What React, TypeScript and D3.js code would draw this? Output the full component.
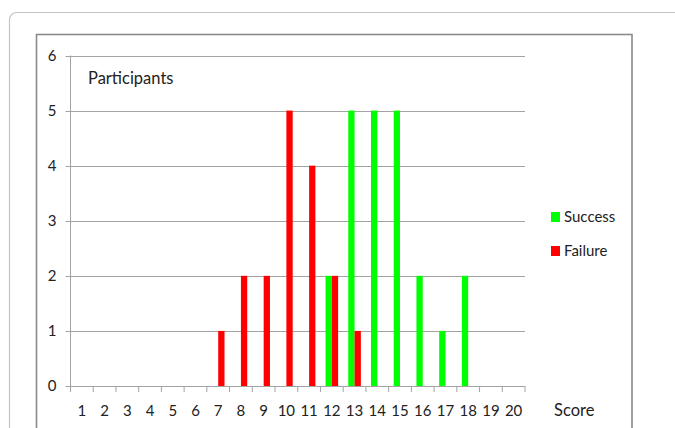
import React from "react";
import * as d3 from "d3";

const scores: number[] = d3.range(1, 21);
const successCounts: number[] = [0, 0, 0, 0, 0, 0, 0, 0, 0, 0, 0, 2, 5, 5, 5, 2, 1, 2, 0, 0];
const failureCounts: number[] = [0, 0, 0, 0, 0, 0, 1, 2, 2, 5, 4, 2, 1, 0, 0, 0, 0, 0, 0, 0];
const yTicks: number[] = [0, 1, 2, 3, 4, 5, 6];
const seriesNames: string[] = ["Success", "Failure"];
const seriesColors: string[] = ["#00ff00", "#ff0000"];

const W = 675;
const H = 428;
const plot = { left: 70.5, right: 525, top: 55.5, bottom: 386 };
const FONT = "Lato, 'Open Sans', sans-serif";

export default function App() {
  const x = d3
    .scaleBand<number>()
    .domain(scores)
    .range([plot.left, plot.right])
    .paddingInner(0)
    .paddingOuter(0);
  const y = d3.scaleLinear().domain([0, 6]).range([plot.bottom, plot.top]);
  const barW = x.bandwidth() * 0.277;
  const series = [successCounts, failureCounts];

  return (
    <svg
      width={W}
      height={H}
      style={{ position: "absolute", left: 0, top: 0, background: "#fff" }}
      fontFamily={FONT}
    >
      {/* outer panel */}
      <rect x={9.5} y={12.5} width={720} height={500} rx={7} fill="#fff" stroke="#c4c4c4" strokeWidth={1.2} />
      {/* chart frame */}
      <rect x={36.5} y={34.5} width={595.5} height={500} fill="#fff" stroke="#8a8a8a" strokeWidth={1.6} />

      {/* gridlines and y labels */}
      {yTicks.map((t) => (
        <g key={t}>
          <line x1={plot.left - 5} x2={plot.right} y1={Math.round(y(t)) + 0.5} y2={Math.round(y(t)) + 0.5} stroke="#a3a3a3" strokeWidth={1} />
          <text x={52} y={y(t) + 5} fontSize={15} textAnchor="middle" fill="#222">
            {t}
          </text>
        </g>
      ))}
      {/* y axis */}
      <line x1={plot.left} x2={plot.left} y1={plot.top} y2={plot.bottom} stroke="#a3a3a3" strokeWidth={1} />

      {/* bars */}
      {series.map((vals, si) =>
        scores.map((s, i) =>
          vals[i] > 0 ? (
            <rect
              key={`${si}-${s}`}
              x={(x(s) as number) + x.bandwidth() / 2 + (si === 0 ? -barW : 0)}
              y={y(vals[i])}
              width={barW}
              height={plot.bottom - y(vals[i])}
              fill={seriesColors[si]}
            />
          ) : null
        )
      )}

      {/* x axis ticks and labels */}
      {d3.range(0, 21).map((k) => {
        const xx = plot.left + k * x.step();
        return <line key={k} x1={xx} x2={xx} y1={plot.bottom} y2={plot.bottom + 6} stroke="#a3a3a3" strokeWidth={1} />;
      })}
      {scores.map((s) => (
        <text key={s} x={(x(s) as number) + x.bandwidth() / 2} y={415.5} fontSize={15} textAnchor="middle" fill="#222">
          {s}
        </text>
      ))}

      <text x={88} y={84} fontSize={16.5} fill="#222">Participants</text>
      <text x={554} y={416} fontSize={16.5} fill="#222">Score</text>

      {/* legend */}
      {seriesNames.map((n, i) => (
        <g key={n} transform={`translate(551, ${212 + i * 34})`}>
          <rect x={0} y={0} width={9} height={10} fill={seriesColors[i]} />
          <text x={13} y={10} fontSize={15} fill="#222">{n}</text>
        </g>
      ))}
    </svg>
  );
}
